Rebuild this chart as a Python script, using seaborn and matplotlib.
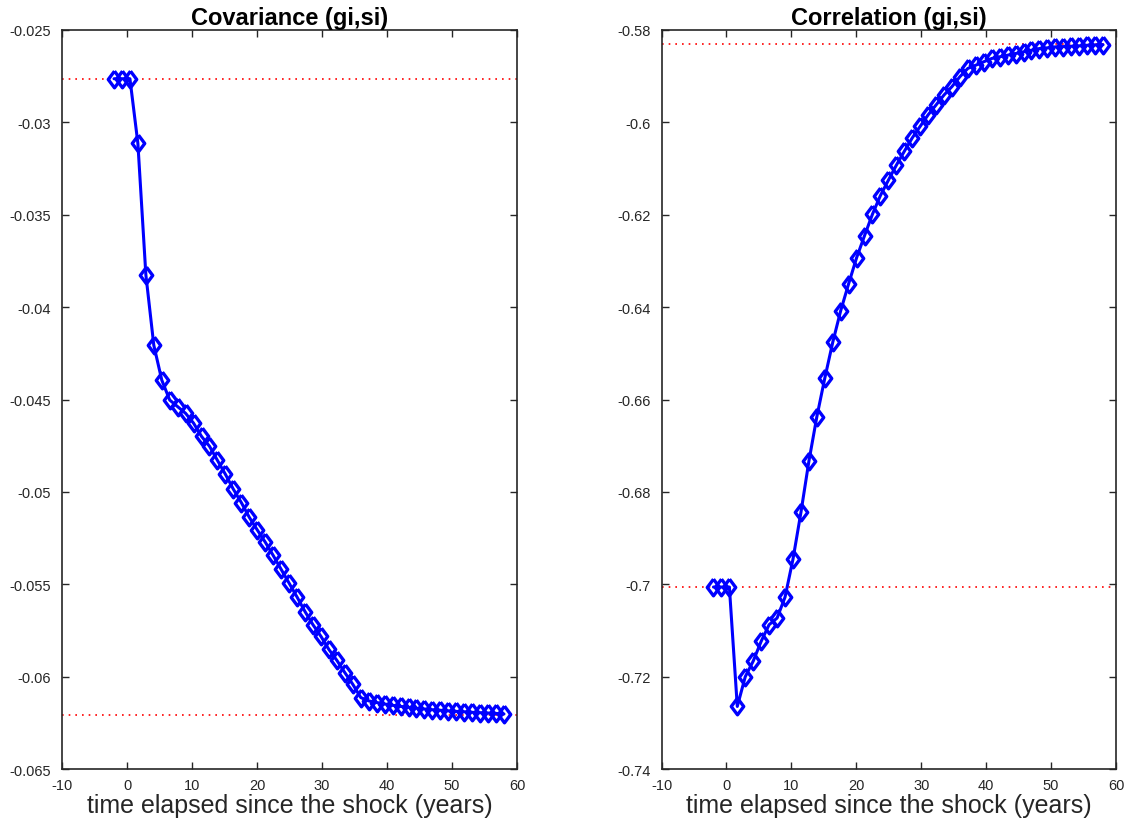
import matplotlib
matplotlib.use("Agg")
import matplotlib.pyplot as plt
import seaborn as sns
from matplotlib.ticker import FuncFormatter

# ---- data ----
years = [-2.00, -0.78, 0.45, 1.67, 2.90, 4.12, 5.35, 6.57, 7.80, 9.02,
         10.24, 11.47, 12.69, 13.92, 15.14, 16.37, 17.59, 18.82, 20.04, 21.27,
         22.49, 23.71, 24.94, 26.16, 27.39, 28.61, 29.84, 31.06, 32.29, 33.51,
         34.73, 35.96, 37.18, 38.41, 39.63, 40.86, 42.08, 43.31, 44.53, 45.76,
         46.98, 48.20, 49.43, 50.65, 51.88, 53.10, 54.33, 55.55, 56.78, 58.00]

covariance = [-0.02764, -0.02764, -0.02764, -0.03113, -0.03825, -0.04206, -0.04395, -0.04503, -0.04539, -0.04575,
              -0.04628, -0.04700, -0.04753, -0.04830, -0.04905, -0.04986, -0.05058, -0.05138, -0.05206, -0.05272,
              -0.05344, -0.05419, -0.05494, -0.05569, -0.05648, -0.05719, -0.05782, -0.05853, -0.05912, -0.05978,
              -0.06041, -0.06113, -0.06131, -0.06140, -0.06148, -0.06155, -0.06161, -0.06166, -0.06171, -0.06175,
              -0.06179, -0.06182, -0.06185, -0.06188, -0.06190, -0.06193, -0.06195, -0.06197, -0.06199, -0.06202]

correlation = [-0.7006, -0.7006, -0.7006, -0.72645, -0.72000, -0.71664, -0.71234, -0.70875, -0.70731, -0.70280,
               -0.69462, -0.68445, -0.67342, -0.66374, -0.65542, -0.64761, -0.64080, -0.63493, -0.62933, -0.62452,
               -0.61987, -0.61585, -0.61252, -0.60929, -0.60628, -0.60338, -0.60086, -0.59837, -0.59622, -0.59407,
               -0.59226, -0.59011, -0.58832, -0.58762, -0.58688, -0.58617, -0.58581, -0.58546, -0.58510, -0.58473,
               -0.58439, -0.58402, -0.58387, -0.58366, -0.58360, -0.58353, -0.58344, -0.58331, -0.58325, -0.58320]

cov_levels = [-0.02764, -0.06206]
corr_levels = [-0.7006, -0.5830]

titles = ["Covariance (gi,si)", "Correlation (gi,si)"]
xlabel = "time elapsed since the shock (years)"
x_ticks = [-10, 0, 10, 20, 30, 40, 50, 60]
cov_ticks = [-0.065, -0.06, -0.055, -0.05, -0.045, -0.04, -0.035, -0.03, -0.025]
corr_ticks = [-0.74, -0.72, -0.70, -0.68, -0.66, -0.64, -0.62, -0.60, -0.58]

# ---- style ----
sns.set_theme(style="white")
plt.rcParams["font.family"] = ["Liberation Sans", "DejaVu Sans"]

fig = plt.figure(figsize=(11.38, 8.28), dpi=100)
ax1 = fig.add_axes([0.0545, 0.070, 0.3998, 0.8926])
ax2 = fig.add_axes([0.5813, 0.070, 0.3994, 0.8926])

diamond = [(0, 1), (0.75, 0), (0, -1), (-0.75, 0), (0, 1)]
text_col = "#262626"

panels = [
    (ax1, covariance, cov_levels, cov_ticks, (-0.065, -0.025), titles[0]),
    (ax2, correlation, corr_levels, corr_ticks, (-0.74, -0.58), titles[1]),
]

for ax, vals, levels, yt, ylim, title in panels:
    for lv in levels:
        ax.axhline(lv, color="red", lw=1.2, ls=(0, (1, 3)), zorder=1)
    sns.lineplot(x=years, y=vals, ax=ax, color="blue", lw=2.2,
                 marker=diamond, markersize=12, markerfacecolor="none",
                 markeredgecolor="blue", markeredgewidth=2.4, zorder=3)
    ax.set_xlim(-10, 60)
    ax.set_ylim(*ylim)
    ax.set_xticks(x_ticks)
    ax.set_yticks(yt)
    ax.yaxis.set_major_formatter(FuncFormatter(lambda v, p: f"{round(v, 4):g}"))
    ax.xaxis.set_major_formatter(FuncFormatter(lambda v, p: f"{v:g}"))
    ax.tick_params(direction="in", length=5, width=1.0, colors=text_col,
                   labelsize=10.5, top=True, right=True, bottom=True, left=True)
    ax.tick_params(axis="y", pad=8)
    ax.tick_params(axis="x", pad=6.5)
    for s in ax.spines.values():
        s.set_visible(True)
        s.set_color(text_col)
        s.set_linewidth(1.2)
    ax.set_title(title, fontsize=17, fontweight="bold", color="black", pad=4)
    ax.set_xlabel(xlabel, fontsize=18, color=text_col, labelpad=1)
    ax.set_ylabel("")
    ax.grid(False)

fig.savefig("out.png", dpi=100, facecolor="white")
